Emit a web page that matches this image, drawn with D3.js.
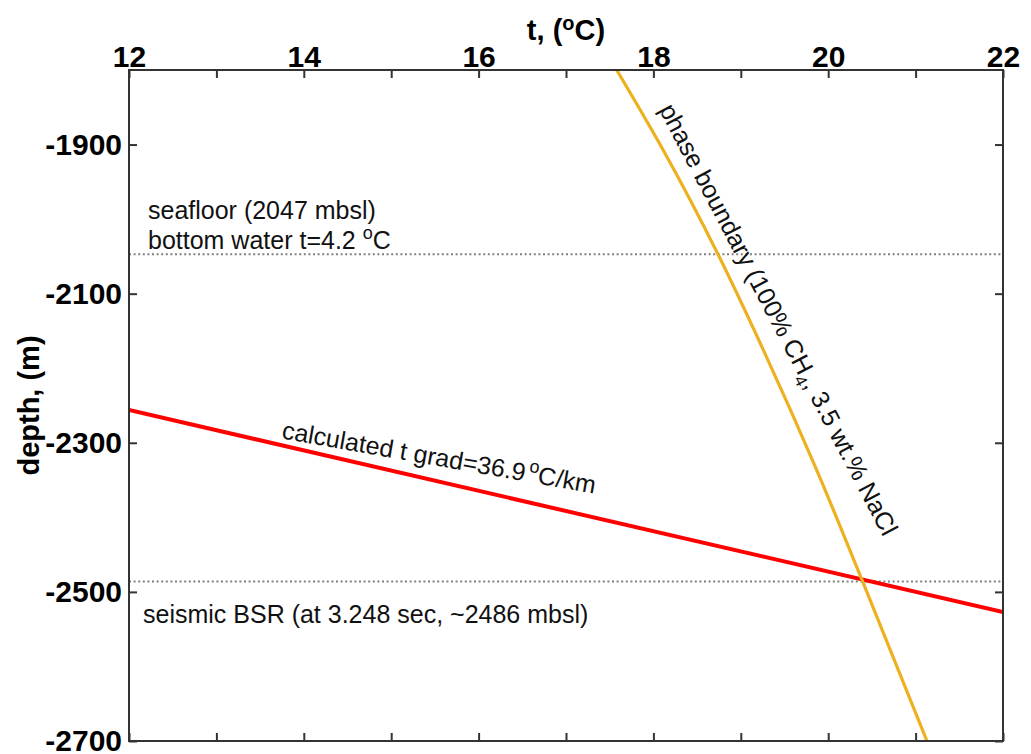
<!DOCTYPE html>
<html>
<head>
<meta charset="utf-8">
<script src="https://cdn.jsdelivr.net/npm/d3@7"></script>
<style>
  html, body { margin: 0; padding: 0; background: #fff; }
  svg { display: block; font-family: "Liberation Sans", Arial, Helvetica, sans-serif; }
  .tick-lab text { font-size: 30px; font-weight: bold; fill: #000; }
  .note { font-size: 25px; fill: #111; }
</style>
</head>
<body>
<svg id="chart" width="1031" height="754"></svg>
<script>
// Temperature axis (°C) and depth axis (m)
const tempDomain = [12, 22];
const depthDomain = [-1800, -2700];
const tempTicks = [12, 13, 14, 15, 16, 17, 18, 19, 20, 21, 22];
const tempLabels = [12, 14, 16, 18, 20, 22];
const depthTicks = [-1900, -2100, -2300, -2500, -2700];

// Reference depths (mbsl, negative downward)
const seafloorDepth = -2047;
const bsrDepth = -2486;

// Calculated geothermal gradient (36.9 °C/km)
const gradTemp = [12, 22];
const gradDepth = [-2256, -2527];

// Hydrate phase boundary (100% CH4, 3.5 wt.% NaCl)
const phaseTemp = [17.58, 18.11, 18.73, 19.26, 19.87, 20.39, 21.13];
const phaseDepth = [-1800, -1907, -2045, -2176, -2337, -2485, -2700];

const svg = d3.select("#chart");
const plotLeft = 129, plotRight = 1003, plotTop = 70, plotBottom = 741;

const x = d3.scaleLinear().domain(tempDomain).range([plotLeft, plotRight]);
const y = d3.scaleLinear().domain(depthDomain).range([plotTop, plotBottom]);

svg.append("defs").append("clipPath").attr("id", "plot-clip")
  .append("rect").attr("x", plotLeft).attr("y", plotTop)
  .attr("width", plotRight - plotLeft).attr("height", plotBottom - plotTop);

const plot = svg.append("g").attr("clip-path", "url(#plot-clip)");

// dotted reference lines: seafloor and BSR
[seafloorDepth, bsrDepth].forEach(d => {
  plot.append("line")
    .attr("x1", x(tempDomain[0])).attr("x2", x(tempDomain[1]))
    .attr("y1", y(d)).attr("y2", y(d))
    .attr("stroke", "#808080").attr("stroke-width", 2)
    .attr("stroke-dasharray", "2,2.6");
});

// geothermal gradient line
const gradLine = d3.line().x(d => x(d[0])).y(d => y(d[1]));
plot.append("path")
  .datum(gradTemp.map((t, i) => [t, gradDepth[i]]))
  .attr("d", gradLine)
  .attr("fill", "none").attr("stroke", "#ff0000").attr("stroke-width", 4);

// phase boundary curve
const phaseLine = d3.line().x(d => x(d[0])).y(d => y(d[1])).curve(d3.curveMonotoneY);
plot.append("path")
  .datum(phaseTemp.map((t, i) => [t, phaseDepth[i]]))
  .attr("d", phaseLine)
  .attr("fill", "none").attr("stroke", "#EDB120").attr("stroke-width", 3.2);

// axes
function styleAxis(g) {
  g.select(".domain").remove();
  g.selectAll(".tick line").attr("stroke", "#333").attr("stroke-width", 2);
  g.classed("tick-lab", true);
}

svg.append("g").attr("transform", `translate(0,${plotTop})`)
  .call(d3.axisTop(x).tickValues(tempTicks).tickSize(-8).tickPadding(3)
    .tickFormat(d => tempLabels.includes(d) ? d : ""))
  .call(styleAxis);

svg.append("g").attr("transform", `translate(0,${plotBottom})`)
  .call(d3.axisBottom(x).tickValues(tempTicks).tickSize(-8).tickFormat(""))
  .call(styleAxis);

svg.append("g").attr("transform", `translate(${plotLeft},0)`)
  .call(d3.axisLeft(y).tickValues(depthTicks).tickSize(-8).tickPadding(7)
    .tickFormat(d => String(d).replace("\u2212", "-")))
  .call(styleAxis)
  .selectAll("text").attr("dy", "0.33em");

svg.append("g").attr("transform", `translate(${plotRight},0)`)
  .call(d3.axisRight(y).tickValues(depthTicks).tickSize(-8).tickFormat(""))
  .call(styleAxis);

// frame
svg.append("rect")
  .attr("x", plotLeft).attr("y", plotTop)
  .attr("width", plotRight - plotLeft).attr("height", plotBottom - plotTop)
  .attr("fill", "none").attr("stroke", "#333").attr("stroke-width", 2);

// axis titles
const xt = svg.append("text")
  .attr("x", (plotLeft + plotRight) / 2).attr("y", 40)
  .attr("text-anchor", "middle")
  .attr("font-size", 29).attr("font-weight", "bold");
xt.append("tspan").text("t, (");
xt.append("tspan").attr("font-size", 20).attr("dy", -10).text("o");
xt.append("tspan").attr("dy", 10).text("C)");

svg.append("text")
  .attr("transform", `translate(39,${(plotTop + plotBottom) / 2}) rotate(-90)`)
  .attr("text-anchor", "middle")
  .attr("font-size", 29).attr("font-weight", "bold")
  .text("depth, (m)");

// annotations
svg.append("text").attr("class", "note")
  .attr("x", x(12) + 19).attr("y", y(seafloorDepth) - 35)
  .text("seafloor (2047 mbsl)");

const bw = svg.append("text").attr("class", "note")
  .attr("x", x(12) + 19).attr("y", y(seafloorDepth) - 5);
bw.append("tspan").text("bottom water t=4.2 ");
bw.append("tspan").attr("font-size", 18).attr("dy", -10).text("o");
bw.append("tspan").attr("dy", 10).text("C");

svg.append("text").attr("class", "note")
  .attr("x", x(12) + 14).attr("y", y(bsrDepth) + 42)
  .text("seismic BSR (at 3.248 sec, ~2486 mbsl)");

// gradient label
const gl = svg.append("text").attr("class", "note")
  .attr("transform", `translate(${x(13.74)},${y(-2294)}) rotate(10)`);
gl.append("tspan").text("calculated t grad=36.9");
gl.append("tspan").attr("font-size", 18).attr("dy", -10).attr("dx", 3).text("o");
gl.append("tspan").attr("dy", 10).text("C/km");

// phase boundary label
const pl = svg.append("text").attr("class", "note")
  .attr("transform", `translate(${x(18.06)},${y(-1853)}) rotate(62.3)`);
pl.append("tspan").text("phase boundary (100% CH");
pl.append("tspan").attr("font-size", 17).attr("dy", 6).text("4");
pl.append("tspan").attr("dy", -6).text(", 3.5 wt.% NaCl");
</script>
</body>
</html>
